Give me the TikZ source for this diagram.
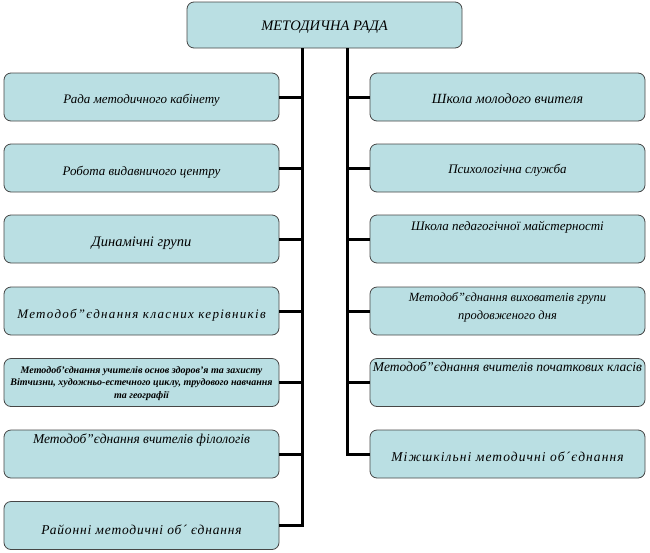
\documentclass[tikz,border=0pt]{standalone}
\usepackage{fontspec}
\setmainfont{Liberation Serif}
\definecolor{boxc}{RGB}{186,223,227}
\definecolor{edgec}{RGB}{70,70,70}
\begin{document}
\begin{tikzpicture}[x=1pt,y=-1pt,
  box/.style={draw=edgec, line width=0.8pt, rounded corners=7pt, fill=boxc,
    minimum width=275pt, minimum height=48pt, inner sep=0pt},
  lbl/.style={font=\itshape\fontsize{13}{15}\selectfont, align=center, inner sep=0pt},
  big/.style={font=\itshape\fontsize{13.5}{16}\selectfont},
  spaced/.style={font=\itshape\fontsize{13}{16}\selectfont\addfontfeatures{LetterSpace=10}},
  small/.style={font=\itshape\bfseries\fontsize{10}{12.5}\selectfont},
  link/.style={line width=3pt, line join=miter}]
\useasboundingbox (0,0) rectangle (650,552);
% boxes
\node[box, minimum height=46pt] (top) at (324.5,25) {};
\node[box] (l1) at (141.5,97) {};
\node[box] (l2) at (141.5,168) {};
\node[box] (l3) at (141.5,239) {};
\node[box] (l4) at (141.5,311) {};
\node[box] (l5) at (141.5,382.5) {};
\node[box] (l6) at (141.5,454) {};
\node[box] (l7) at (141.5,525.5) {};
\node[box] (r1) at (507.5,97) {};
\node[box] (r2) at (507.5,168) {};
\node[box] (r3) at (507.5,239) {};
\node[box] (r4) at (507.5,311) {};
\node[box] (r5) at (507.5,382.5) {};
\node[box] (r6) at (507.5,454) {};
% trunks
\coordinate (L) at (302,0);
\coordinate (R) at (347,0);
\draw[link] (L |- top.south) -- (L |- l7.east) -- (l7.east);
\draw[link] (R |- top.south) -- (R |- r6.west) -- (r6.west);
\foreach \n in {l1,l2,l3,l4,l5,l6} \draw[link] (\n.east) -- (\n.east -| L);
\foreach \n in {r1,r2,r3,r4,r5} \draw[link] (\n.west) -- (\n.west -| R);
% labels
\node[lbl, font=\itshape\fontsize{14.5}{16}\selectfont] (ttop) at (324.5,27) {МЕТОДИЧНА РАДА};
\node[lbl] (tl1) at (141.5,100) {Рада методичного кабінету};
\node[lbl] (tl2) at (141.5,172) {Робота видавничого центру};
\node[lbl, font=\itshape\fontsize{14.5}{16}\selectfont] (tl3) at (141.5,243) {Динамічні групи};
\node[lbl, spaced] (tl4) at (141.5,315) {Методоб”єднання класних керівників};
\node[lbl, small] (tl5) at (141.5,383) {Методоб’єднання учителів основ здоров’я та захисту\\Вітчизни, художньо-естечного циклу, трудового навчання\\та географії};
\node[lbl, big] (tl6) at (141.5,440) {Методоб”єднання вчителів філологів};
\node[lbl, font=\itshape\fontsize{13.5}{16}\selectfont\addfontfeatures{LetterSpace=6}] (tl7) at (141.5,530) {Районні методичні об´ єднання};
\node[lbl, font=\itshape\fontsize{14}{16}\selectfont] (tr1) at (507.5,99) {Школа молодого вчителя};
\node[lbl] (tr2) at (507.5,170) {Психологічна служба};
\node[lbl] (tr3) at (507.5,227) {Школа педагогічної майстерності};
\node[lbl, font=\itshape\fontsize{12.5}{18}\selectfont] (tr4) at (507.5,307) {Методоб”єднання вихователів групи\\продовженого дня};
\node[lbl, font=\itshape\fontsize{13.5}{16}\selectfont] (tr5) at (507.5,367) {Методоб”єднання вчителів початкових класів};
\node[lbl, font=\itshape\fontsize{13.5}{16}\selectfont\addfontfeatures{LetterSpace=8}] (tr6) at (507.5,457) {Міжшкільні методичні об´єднання};
\end{tikzpicture}
\end{document}
